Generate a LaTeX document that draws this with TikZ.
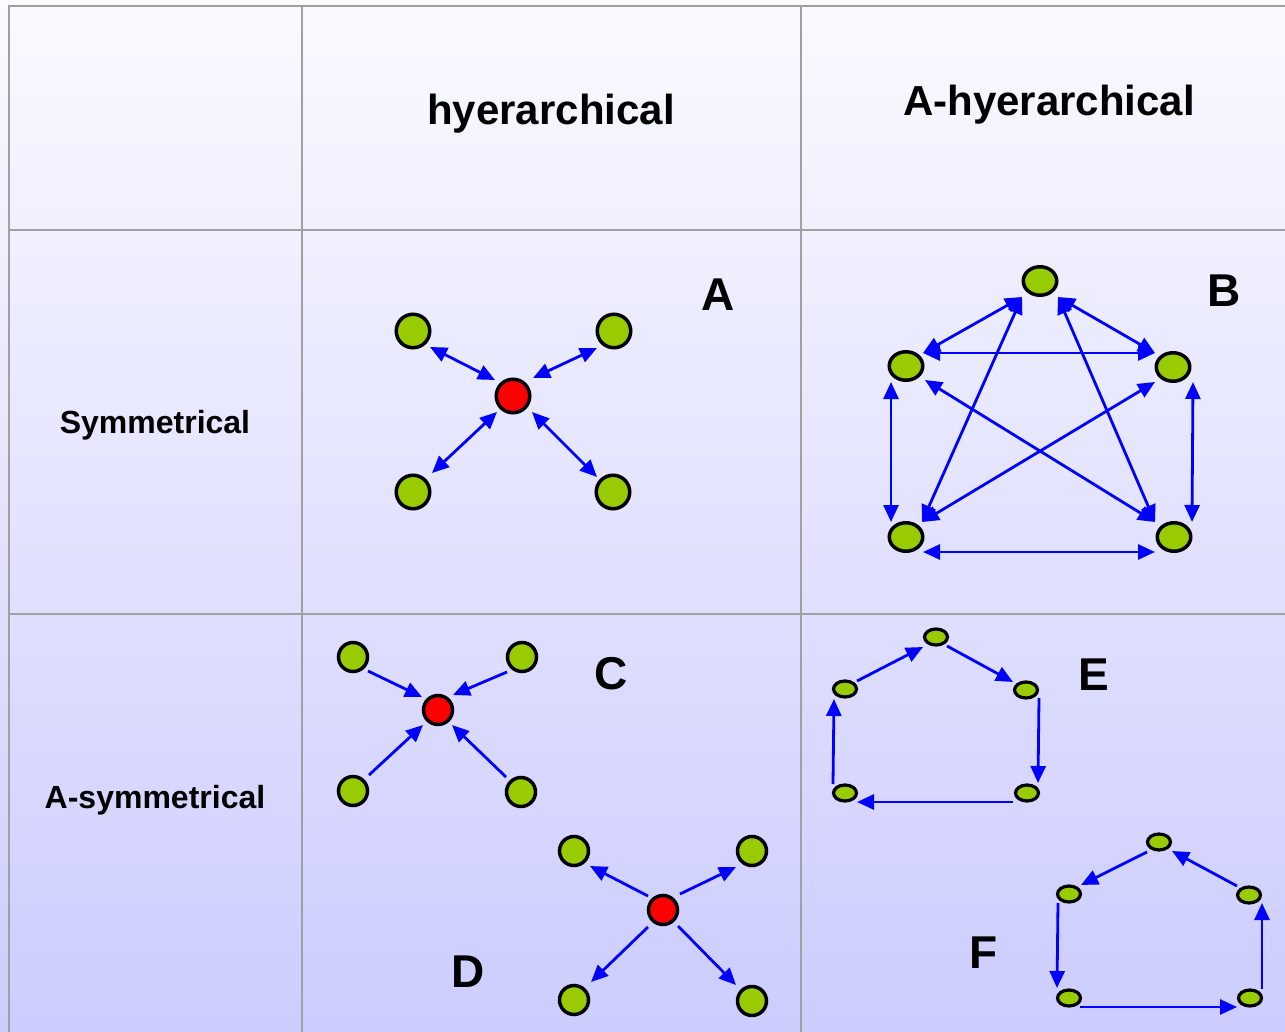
\documentclass[tikz,border=0pt]{standalone}
\usepackage{fontspec}
\setmainfont{Liberation Sans}
\usetikzlibrary{arrows.meta,calc,shapes.geometric}
\definecolor{nodegreen}{HTML}{99CC00}
\definecolor{arrowblue}{HTML}{0000FF}
\definecolor{gridgray}{HTML}{A0A0A0}
\definecolor{bgtop}{HTML}{FAFAFF}
\definecolor{bgbot}{HTML}{CCCCFF}
\tikzset{
  grn/.style={circle, draw=black, line width=3.5pt, fill=nodegreen, inner sep=0pt, minimum size=33.5pt},
  grns/.style={grn, minimum size=29pt},
  redn/.style={grn, fill=red},
  reds/.style={grns, fill=red},
  ellB/.style={ellipse, draw=black, line width=3.5pt, fill=nodegreen, inner sep=0pt, minimum width=33.5pt, minimum height=28.5pt},
  ellE/.style={ellB, line width=3.2pt, minimum width=23pt, minimum height=16pt},
  con/.style={draw=arrowblue, line width=2.8pt},
  one/.style={con, -{Triangle[length=17pt,width=15pt]}},
  two/.style={con, {Triangle[length=17pt,width=15pt]}-{Triangle[length=17pt,width=15pt]}},
  gridline/.style={draw=gridgray, line width=2pt},
  hdr/.style={font=\bfseries\fontsize{42}{50}\selectfont, inner sep=0pt, anchor=base},
  rowlbl/.style={font=\bfseries\fontsize{32}{38}\selectfont, inner sep=0pt, anchor=base},
  letter/.style={font=\bfseries\fontsize{46}{54}\selectfont, inner sep=0pt},
}
\begin{document}
\begin{tikzpicture}[x=1pt,y=-1pt]
\useasboundingbox (0,0) rectangle (1285,1032);
\shade[top color=bgtop, bottom color=bgbot] (0,0) rectangle (1285,1032);
% grid
\draw[gridline] (9,1032) -- (9,6) -- (1285,6);
\draw[gridline] (302,6) -- (302,1032);
\draw[gridline] (801,6) -- (801,1032);
\draw[gridline] (9,230) -- (1285,230);
\draw[gridline] (9,614) -- (1285,614);
% headers
\node[hdr] (h1) at (551,125) {hyerarchical};
\node[hdr] (h2) at (1049,116) {A-hyerarchical};
\node[rowlbl] (r1) at (155,433) {Symmetrical};
\node[rowlbl] (r2) at (155,808) {A-symmetrical};
% letters
\node[letter] (LA) at (718,295) {A};
\node[letter] (LB) at (1224,291) {B};
\node[letter] (LC) at (611,674) {C};
\node[letter] (LD) at (468,972) {D};
\node[letter] (LE) at (1094,675) {E};
\node[letter] (LF) at (984,953) {F};
% ---- A ----
\node[redn] (a0) at (513,396) {};
\node[grn] (a1) at (413,331) {};
\node[grn] (a2) at (614,331) {};
\node[grn] (a3) at (413,492) {};
\node[grn] (a4) at (613,492) {};
\draw[two] ($(a1)+(17,16)$) -- ($(a0)+(-18,-16)$);
\draw[two] ($(a2)+(-17,17)$) -- ($(a0)+(20,-18)$);
\draw[two] ($(a3)+(19,-19)$) -- ($(a0)+(-16,16)$);
\draw[two] ($(a4)+(-16,-15)$) -- ($(a0)+(19,16)$);
% ---- B ----
\node[ellB] (Bt) at (1040,281) {};
\node[ellB] (Bl) at (906,366) {};
\node[ellB] (Br) at (1173,367) {};
\node[ellB] (Bbl) at (906,537) {};
\node[ellB] (Bbr) at (1174,537) {};
\draw[two] ($(Bt)+(-18,16)$) -- ($(Bl)+(17,-13)$);
\draw[two] ($(Bt)+(18,16)$) -- ($(Br)+(-18,-14)$);
\draw[two] ($(Bl)+(17,-13)$) -- ($(Br)+(-18,-14)$);
\draw[two] ($(Bt)+(-18,16)$) -- ($(Bbl)+(16,-15)$);
\draw[two] ($(Bt)+(18,16)$) -- ($(Bbr)+(-19,-15)$);
\draw[two] ($(Bl)+(19,14)$) -- ($(Bbr)+(-19,-15)$);
\draw[two] ($(Br)+(-18,15)$) -- ($(Bbl)+(16,-15)$);
\draw[two] ($(Bl)+(-15,16)$) -- ($(Bbl)+(-15,-15)$);
\draw[two] ($(Br)+(20,15)$) -- ($(Bbr)+(18,-15)$);
\draw[two] ($(Bbl)+(17,15)$) -- ($(Bbr)+(-19,15)$);
% ---- C ----
\node[reds] (c0) at (438,710) {};
\node[grns] (c1) at (353,657) {};
\node[grns] (c2) at (522,657) {};
\node[grns] (c3) at (353,791) {};
\node[grns] (c4) at (521,792) {};
\draw[one] ($(c1)+(15,14)$) -- ($(c0)+(-16,-13)$);
\draw[one] ($(c2)+(-15,15)$) -- ($(c0)+(15,-15)$);
\draw[one] ($(c3)+(16,-16)$) -- ($(c0)+(-15,15)$);
\draw[one] ($(c4)+(-15,-15)$) -- ($(c0)+(14,15)$);
% ---- D ----
\node[reds] (d0) at (663,910) {};
\node[grns] (d1) at (574,851) {};
\node[grns] (d2) at (752,851) {};
\node[grns] (d3) at (574,1000) {};
\node[grns] (d4) at (752,1001) {};
\draw[one] ($(d0)+(-15,-14)$) -- ($(d1)+(16,15)$);
\draw[one] ($(d0)+(17,-16)$) -- ($(d2)+(-16,16)$);
\draw[one] ($(d0)+(-15,17)$) -- ($(d3)+(17,-18)$);
\draw[one] ($(d0)+(15,16)$) -- ($(d4)+(-16,-16)$);
% ---- E ----
\node[ellE] (Et) at (936,637) {};
\node[ellE] (El) at (845,689) {};
\node[ellE] (Er) at (1026,690) {};
\node[ellE] (Ebl) at (845,793) {};
\node[ellE] (Ebr) at (1027,793) {};
\draw[one] ($(El)+(12,-8)$) -- ($(Et)+(-13,10)$);
\draw[one] ($(Et)+(11,9)$) -- ($(Er)+(-13,-8)$);
\draw[one] ($(Er)+(13,8)$) -- ($(Ebr)+(11,-10)$);
\draw[one] ($(Ebr)+(-14,9)$) -- ($(Ebl)+(12,9)$);
\draw[one] ($(Ebl)+(-12,-9)$) -- ($(El)+(-11,10)$);
% ---- F ----
\node[ellE] (Ft) at (1159,842) {};
\node[ellE] (Fl) at (1069,894) {};
\node[ellE] (Fr) at (1249,895) {};
\node[ellE] (Fbl) at (1069,998) {};
\node[ellE] (Fbr) at (1250,998) {};
\draw[one] ($(Ft)+(-12,10)$) -- ($(Fl)+(12,-9)$);
\draw[one] ($(Fr)+(-12,-9)$) -- ($(Ft)+(13,9)$);
\draw[one] ($(Fl)+(-11,9)$) -- ($(Fbl)+(-12,-10)$);
\draw[one] ($(Fbl)+(11,9)$) -- ($(Fbr)+(-13,9)$);
\draw[one] ($(Fbr)+(12,-9)$) -- ($(Fr)+(13,8)$);
\end{tikzpicture}
\end{document}
